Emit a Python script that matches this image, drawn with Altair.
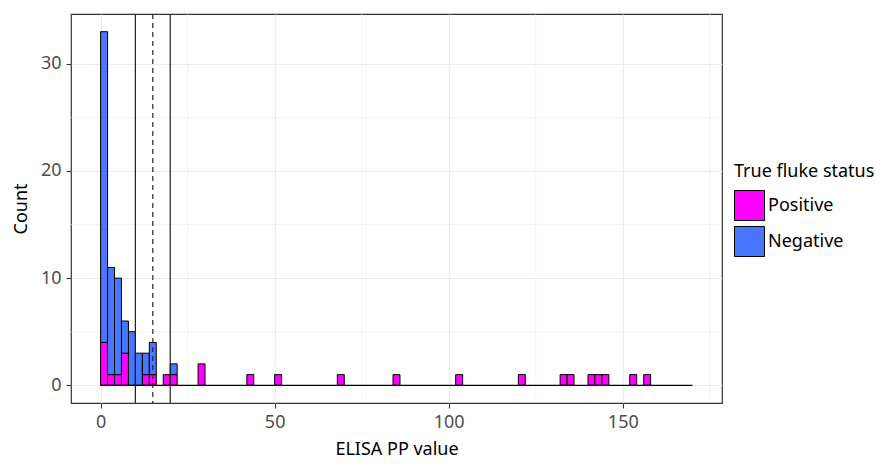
import altair as alt
import pandas as pd

# ---- data ----
bin_width = 2
bin_starts = [0, 2, 4, 6, 8, 10, 12, 14, 18, 20, 28, 42, 50, 68, 84, 102, 120, 132, 134, 140, 142, 144, 152, 156]
positive_counts = [4, 1, 1, 3, 0, 0, 1, 1, 1, 1, 2, 1, 1, 1, 1, 1, 1, 1, 1, 1, 1, 1, 1, 1]
negative_counts = [29, 10, 9, 3, 5, 3, 2, 3, 0, 1, 0, 0, 0, 0, 0, 0, 0, 0, 0, 0, 0, 0, 0, 0]
hist_range = [0, 170]
cutoffs_solid = [10, 20]
cutoffs_dashed = [15]
x_ticks = [0, 50, 100, 150]
x_minor = [25, 75, 125, 175]
y_ticks = [0, 10, 20, 30]
y_minor = [5, 15, 25]
statuses = ["Positive", "Negative"]
colors = ["#FF00FF", "#4876FF"]

rows = []
for s, p, n in zip(bin_starts, positive_counts, negative_counts):
    if p:
        rows.append({"start": s, "end": s + bin_width, "count": p, "status": "Positive", "ord": 0})
    if n:
        rows.append({"start": s, "end": s + bin_width, "count": n, "status": "Negative", "ord": 1})
df = pd.DataFrame(rows)

FONT = "Noto Sans"
FS = 18
xscale = alt.Scale(domain=[-8.5, 178.5], nice=False, zero=False)
yscale = alt.Scale(domain=[-1.65, 34.65], nice=False, zero=False)

bars = alt.Chart(df).transform_stack(
    stack="count", groupby=["start"], as_=["y0", "y1"], sort=[alt.SortField("ord", order="ascending")]
).mark_bar(stroke="black", strokeWidth=1.0, strokeOpacity=1).encode(
    x=alt.X("start:Q", scale=xscale,
            axis=alt.Axis(values=x_ticks, title="ELISA PP value", grid=True, gridColor="#EBEBEB", gridWidth=1.1)),
    x2="end:Q",
    y=alt.Y("y0:Q", scale=yscale,
            axis=alt.Axis(values=y_ticks, title="Count", grid=True, gridColor="#EBEBEB", gridWidth=1.1)),
    y2="y1:Q",
    color=alt.Color("status:N", scale=alt.Scale(domain=statuses, range=colors),
                    legend=alt.Legend(title="True fluke status", orient="none", legendX=663, legendY=149,
                                      symbolType="square", symbolSize=900, symbolStrokeColor="black",
                                      symbolStrokeWidth=1, symbolOpacity=1, rowPadding=1,
                                      labelFontSize=FS, titleFontSize=FS, titleFontWeight="normal",
                                      labelFont=FONT, titleFont=FONT, labelColor="black", titleColor="black",
                                      labelOffset=3, titlePadding=9)),
)

minor_x = alt.Chart(pd.DataFrame({"x": x_minor})).mark_rule(color="#EBEBEB", strokeWidth=0.6).encode(
    x=alt.X("x:Q", scale=xscale))
minor_y = alt.Chart(pd.DataFrame({"y": y_minor})).mark_rule(color="#EBEBEB", strokeWidth=0.6).encode(
    y=alt.Y("y:Q", scale=yscale))

baseline = alt.Chart(pd.DataFrame({"x": [hist_range[0]], "x2": [hist_range[1]], "y": [0]})).mark_rule(
    color="black", strokeWidth=1.3).encode(
    x=alt.X("x:Q", scale=xscale), x2="x2:Q", y=alt.Y("y:Q", scale=yscale))

solid = alt.Chart(pd.DataFrame({"x": cutoffs_solid})).mark_rule(color="#222222", strokeWidth=1.2).encode(
    x=alt.X("x:Q", scale=xscale))
dashed = alt.Chart(pd.DataFrame({"x": cutoffs_dashed})).mark_rule(
    color="#222222", strokeWidth=1.2, strokeDash=[5, 4]).encode(x=alt.X("x:Q", scale=xscale))

chart = alt.layer(minor_x, minor_y, bars, baseline, solid, dashed).properties(
    width=651, height=389,
    autosize=alt.AutoSizeParams(type="none"),
    padding={"left": 63, "top": 6, "right": 152, "bottom": 60},
).configure_view(stroke="#333333", strokeWidth=1.2).configure_axis(
    domain=False, tickColor="#333333", tickSize=5, tickWidth=1.1,
    labelFont=FONT, titleFont=FONT, labelFontSize=FS, titleFontSize=FS,
    labelColor="#4D4D4D", titleColor="black", titleFontWeight="normal",
    labelPadding=5,
).configure_axisX(titlePadding=9).configure_axisY(titlePadding=10)

chart.save("out.html", embed_options={"renderer": "svg", "actions": False})
